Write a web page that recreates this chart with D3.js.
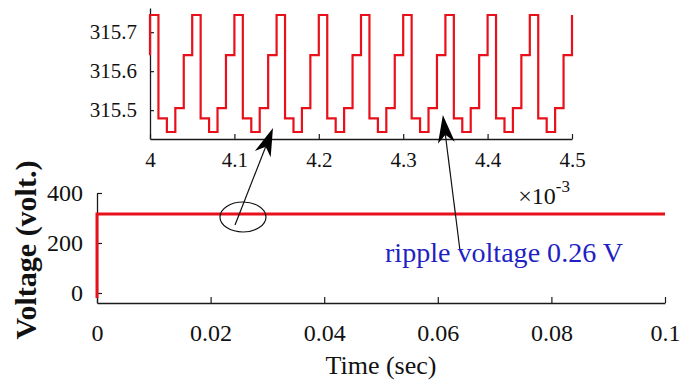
<!DOCTYPE html>
<html>
<head>
<meta charset="utf-8">
<script src="https://cdn.jsdelivr.net/npm/d3@7"></script>
<style>
  html, body { margin: 0; padding: 0; background: #fff; }
  svg { display: block; }
  text { font-family: "Liberation Serif", "Times New Roman", serif; }
</style>
</head>
<body>
<svg id="chart" width="694" height="389"></svg>
<script>
// ---------- data ----------
// Main plot: full simulation (time in s, voltage in V)
const mainTime = [0, 0, 0.1];
const mainVolt = [-20, 315.6, 315.6];
const mainXTicks = [0, 0.02, 0.04, 0.06, 0.08, 0.1];
const mainYTicks = [0, 200, 400];

// Inset (zoom 4.0 .. 4.5 ms): stepped ripple, time in units of 1e-3 s
const insetTime = [4.00, 4.00, 4.01, 4.02, 4.03, 4.04,
  4.05, 4.06, 4.07, 4.08, 4.09,
  4.10, 4.11, 4.12, 4.13, 4.14,
  4.15, 4.16, 4.17, 4.18, 4.19,
  4.20, 4.21, 4.22, 4.23, 4.24,
  4.25, 4.26, 4.27, 4.28, 4.29,
  4.30, 4.31, 4.32, 4.33, 4.34,
  4.35, 4.36, 4.37, 4.38, 4.39,
  4.40, 4.41, 4.42, 4.43, 4.44,
  4.45, 4.46, 4.47, 4.48, 4.49,
  4.50];
const insetVolt = [315.641, 315.744, 315.479, 315.444, 315.505, 315.641,
  315.744, 315.479, 315.444, 315.505, 315.641,
  315.744, 315.479, 315.444, 315.505, 315.641,
  315.744, 315.479, 315.444, 315.505, 315.641,
  315.744, 315.479, 315.444, 315.505, 315.641,
  315.744, 315.479, 315.444, 315.505, 315.641,
  315.744, 315.479, 315.444, 315.505, 315.641,
  315.744, 315.479, 315.444, 315.505, 315.641,
  315.744, 315.479, 315.444, 315.505, 315.641,
  315.744, 315.479, 315.444, 315.505, 315.641,
  315.744];
const insetXTicks = [4, 4.1, 4.2, 4.3, 4.4, 4.5];
const insetYTicks = [315.5, 315.6, 315.7];

const xLabel = "Time (sec)";
const yLabel = "Voltage (volt.)";
const rippleLabel = "ripple voltage 0.26 V";

// ---------- drawing ----------
const svg = d3.select("#chart");
const RED = "#e8101a";
const AX = "#1a1a1a";
const SERIF = '"Liberation Serif", "Times New Roman", serif';

// main scales
const x = d3.scaleLinear().domain([0, 0.1]).range([97, 665]);
const y = d3.scaleLinear().domain([-40, 400]).range([303, 193]);

// inset scales
const xi = d3.scaleLinear().domain([4, 4.5]).range([150, 572]);
const yi = d3.scaleLinear().domain([315.426, 315.762]).range([139, 8]);

function styleAxis(g, fontSize) {
  g.attr("font-family", null).attr("font-size", null);
  g.select(".domain").attr("stroke", AX).attr("stroke-width", 1.3);
  g.selectAll(".tick line").attr("stroke", AX).attr("stroke-width", 1.2);
  g.selectAll(".tick text").attr("fill", "#111")
    .style("font-size", fontSize + "px").style("font-family", SERIF);
}

// main axes
const gx = svg.append("g").attr("transform", `translate(0,${y.range()[0]})`)
  .call(d3.axisBottom(x).tickValues(mainXTicks).tickSizeInner(-6).tickSizeOuter(0)
    .tickPadding(21).tickFormat(d => d === 0 ? "0" : d3.format("~g")(d)));
styleAxis(gx, 24);

const gy = svg.append("g").attr("transform", `translate(${x.range()[0]},0)`)
  .call(d3.axisLeft(y).tickValues(mainYTicks).tickSizeInner(-5).tickSizeOuter(0)
    .tickPadding(14).tickFormat(d3.format("d")));
styleAxis(gy, 24);

// main line
svg.append("path")
  .datum(mainTime.map((t, i) => [t, mainVolt[i]]))
  .attr("fill", "none").attr("stroke", RED).attr("stroke-width", 3)
  .attr("d", d3.line().x(d => x(d[0])).y(d => y(d[1])));

// inset axes
const gxi = svg.append("g").attr("transform", `translate(0,${yi.range()[0]})`)
  .call(d3.axisBottom(xi).tickValues(insetXTicks).tickSizeInner(-5).tickSizeOuter(0)
    .tickPadding(13).tickFormat(d3.format("~g")));
styleAxis(gxi, 21);

const gyi = svg.append("g").attr("transform", `translate(${xi.range()[0]},0)`)
  .call(d3.axisLeft(yi).tickValues(insetYTicks).tickSizeInner(-4).tickSizeOuter(0)
    .tickPadding(13).tickFormat(d3.format(".1f")));
styleAxis(gyi, 21);

// inset ripple trace
svg.append("path")
  .datum(insetTime.map((t, i) => [t, insetVolt[i]]))
  .attr("fill", "none").attr("stroke", RED).attr("stroke-width", 2.2)
  .attr("stroke-linejoin", "miter")
  .attr("d", d3.line().curve(d3.curveStepAfter).x(d => xi(d[0])).y(d => yi(d[1])));

// x10^-3 multiplier
const mult = svg.append("text")
  .attr("x", xi(4.5) - 2).attr("y", 204).attr("text-anchor", "end")
  .attr("fill", "#111").style("font-size", "24px");
mult.append("tspan").text("\u00D710");
mult.append("tspan").attr("dy", -12).style("font-size", "17px").text("-3");

// axis titles
svg.append("text")
  .attr("x", (x.range()[0] + x.range()[1]) / 2).attr("y", 374)
  .attr("text-anchor", "middle").attr("fill", "#111")
  .style("font-size", "26px").text(xLabel);

svg.append("text")
  .attr("transform", `translate(36,${(y.range()[0] + y.range()[1]) / 2 + 2}) rotate(-90)`)
  .attr("text-anchor", "middle").attr("fill", "#111")
  .style("font-size", "30px").style("font-weight", "bold").text(yLabel);

// ellipse marking the zoomed region
svg.append("ellipse")
  .attr("cx", x(0.0257)).attr("cy", y(304)).attr("rx", 23).attr("ry", 15)
  .attr("fill", "none").attr("stroke", "#111").attr("stroke-width", 1.2);

// arrows: from main-axes point to inset point
const arrows = [
  { from: [0.0243, 272], to: [4.1457, 315.454] },
  { from: [0.0639, 172], to: [4.347, 315.4876] }
];
arrows.forEach(a => {
  const x0 = x(a.from[0]), y0 = y(a.from[1]);
  const x1 = xi(a.to[0]), y1 = yi(a.to[1]);
  const dx = x1 - x0, dy = y1 - y0, L = Math.hypot(dx, dy);
  const ux = dx / L, uy = dy / L, px = -uy, py = ux;
  const hl = 28, hw = 8.5, notch = 20;
  svg.append("line")
    .attr("x1", x0).attr("y1", y0)
    .attr("x2", x1 - ux * notch).attr("y2", y1 - uy * notch)
    .attr("stroke", "#111").attr("stroke-width", 1.2);
  const bx = x1 - ux * hl, by = y1 - uy * hl;
  const nx = x1 - ux * notch, ny = y1 - uy * notch;
  svg.append("path")
    .attr("d", `M${x1},${y1}L${bx + px * hw},${by + py * hw}L${nx},${ny}L${bx - px * hw},${by - py * hw}Z`)
    .attr("fill", "#000");
});

// ripple annotation text
svg.append("text")
  .attr("x", 385).attr("y", 262)
  .attr("fill", "#1f1fc4").style("font-size", "27px")
  .attr("textLength", 238).attr("lengthAdjust", "spacingAndGlyphs")
  .text(rippleLabel);
</script>
</body>
</html>
